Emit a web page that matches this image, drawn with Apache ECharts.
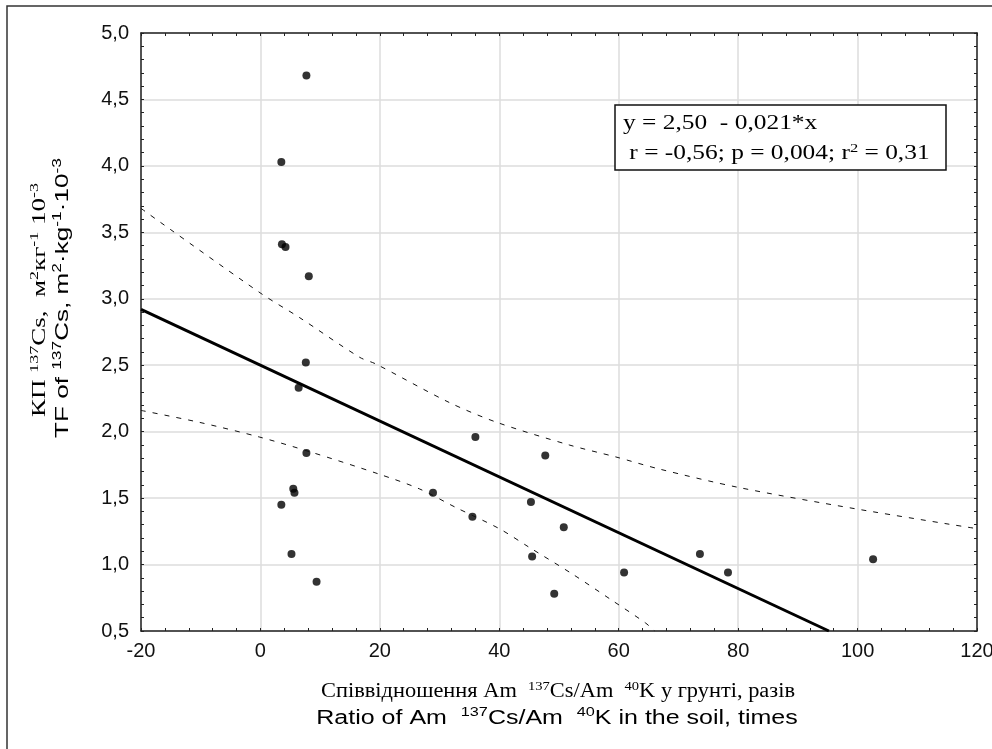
<!DOCTYPE html>
<html>
<head>
<meta charset="utf-8">
<script src="https://cdn.jsdelivr.net/npm/echarts@6/dist/echarts.min.js"></script>
<style>
html,body{margin:0;padding:0;background:#fff;overflow:hidden;}
#chart{width:992px;height:749px;}
</style>
</head>
<body>
<div id="chart"></div>
<script>
// Observed points
const xValues = [7.7, 3.5, 3.6, 4.2, 8.1, 7.6, 6.4, 7.7, 5.5, 5.7, 3.5, 5.2, 9.4, 28.9, 36.0, 47.7, 45.3, 35.5, 50.8, 45.5, 49.2, 60.9, 73.6, 78.3, 102.6];
const yValues = [4.68, 4.03, 3.41, 3.39, 3.17, 2.52, 2.33, 1.84, 1.57, 1.54, 1.45, 1.08, 0.87, 1.54, 1.96, 1.82, 1.47, 1.36, 1.28, 1.06, 0.78, 0.94, 1.08, 0.94, 1.04];
// Regression line endpoints
const fitX = [-20, 95.2];
const fitY = [2.92, 0.5];
// Upper confidence band
const upperX = [-20, 0.1, 6.5, 16.6, 19.3, 31.6, 39.6, 51.7, 59.5, 66.7, 80.1, 99.6, 120];
const upperY = [3.68, 3.04, 2.86, 2.56, 2.51, 2.22, 2.07, 1.90, 1.81, 1.72, 1.58, 1.42, 1.27];
// Lower confidence band
const lowerX = [-20, -10.2, -0.2, 8.2, 19.9, 26.6, 32.7, 40, 45, 52.2, 58.9, 64.5, 66];
const lowerY = [2.16, 2.07, 1.96, 1.85, 1.68, 1.57, 1.43, 1.27, 1.13, 0.93, 0.73, 0.56, 0.5];
// Tick labels
const xTickLabels = ['-20', '0', '20', '40', '60', '80', '100', '120'];
const yTickLabels = ['0,5', '1,0', '1,5', '2,0', '2,5', '3,0', '3,5', '4,0', '4,5', '5,0'];

const zip = (a, b) => a.map((v, i) => [v, b[i]]);
const chart = echarts.init(document.getElementById('chart'), null, {renderer: 'canvas', width: 992, height: 749});

const labelFont = {fontFamily: 'Liberation Sans', fontSize: 20, color: '#111'};
const frameLine = {show: true, onZero: false, lineStyle: {color: '#222', width: 1.5}};
const tickStyle = {show: true, inside: true, length: 3, lineStyle: {color: '#222'}};
const minorStyle = {show: true, splitNumber: 5, length: 3, lineStyle: {color: '#222'}};

const option = {
  animation: false,
  backgroundColor: '#fff',
  grid: {left: 141, top: 33, right: 15, bottom: 118, containLabel: false, outerBoundsMode: 'none'},
  xAxis: [{
    type: 'value', min: -20, max: 120, interval: 20,
    axisLine: frameLine, axisTick: tickStyle, minorTick: minorStyle,
    splitLine: {show: true, lineStyle: {color: '#dcdcdc', width: 1.5}},
    axisLabel: Object.assign({margin: 10, formatter: v => xTickLabels[Math.round((v + 20) / 20)]}, labelFont)
  }, {
    type: 'value', position: 'top', min: -20, max: 120, interval: 20,
    axisLine: frameLine, axisTick: tickStyle, minorTick: minorStyle,
    splitLine: {show: false}, axisLabel: {show: false}
  }],
  yAxis: [{
    type: 'value', min: 0.5, max: 5, interval: 0.5,
    axisLine: frameLine, axisTick: tickStyle, minorTick: minorStyle,
    splitLine: {show: true, lineStyle: {color: '#dcdcdc', width: 1.5}},
    axisLabel: Object.assign({margin: 12, formatter: v => yTickLabels[Math.round((v - 0.5) / 0.5)]}, labelFont)
  }, {
    type: 'value', position: 'right', min: 0.5, max: 5, interval: 0.5,
    axisLine: frameLine, axisTick: tickStyle, minorTick: minorStyle,
    splitLine: {show: false}, axisLabel: {show: false}
  }],
  series: [
    {
      type: 'line', data: zip(upperX, upperY), smooth: 0.3, showSymbol: false, silent: true,
      lineStyle: {color: '#111', width: 1, type: [5, 7]}
    },
    {
      type: 'line', data: zip(lowerX, lowerY), smooth: 0.3, showSymbol: false, silent: true,
      lineStyle: {color: '#111', width: 1, type: [5, 7]}
    },
    {
      type: 'line', data: zip(fitX, fitY), showSymbol: false, silent: true,
      lineStyle: {color: '#000', width: 3}
    },
    {
      type: 'scatter', data: zip(xValues, yValues), symbol: 'circle', symbolSize: 8,
      itemStyle: {color: '#000'}
    }
  ],
  graphic: [
    {
      type: 'rect', shape: {x: 7, y: 6, width: 1100, height: 900}, z: 100,
      style: {fill: null, stroke: '#333', lineWidth: 1.5}, silent: true
    },
    {
      type: 'rect', shape: {x: 615, y: 105, width: 331, height: 65}, z: 100,
      style: {fill: '#fff', stroke: '#111', lineWidth: 1.5}
    },
    {
      type: 'text', x: 623, y: 109, z: 101, scaleX: 1.27,
      style: {
        text: '{t|y = 2,50  - 0,021*x}\n{t| r = -0,56; p = 0,004; r}{s|2}{t| = 0,31}',
        rich: {
          t: {fontFamily: 'Liberation Serif', fontSize: 20, lineHeight: 30, fill: '#000'},
          s: {fontFamily: 'Liberation Serif', fontSize: 13, verticalAlign: 'top', lineHeight: 30, padding: [3, 0, 0, 0], fill: '#000'}
        }
      }
    },
    {
      type: 'text', x: 558, y: 692, z: 101, scaleX: 1.12,
      style: {
        text: '{a|Співвідношення Am  }{as|137}{a|Cs/Am  }{as|40}{a|K у грунті, разів}',
        align: 'center', verticalAlign: 'middle',
        rich: {
          a: {fontFamily: 'Liberation Serif', fontSize: 20, lineHeight: 24, fill: '#000'},
          as: {fontFamily: 'Liberation Serif', fontSize: 13, lineHeight: 24, verticalAlign: 'top', fill: '#000'}
        }
      }
    },
    {
      type: 'text', x: 557, y: 718, z: 101, scaleX: 1.25,
      style: {
        text: '{b|Ratio of Am  }{bs|137}{b|Cs/Am  }{bs|40}{b|K in the soil, times}',
        align: 'center', verticalAlign: 'middle',
        rich: {
          b: {fontFamily: 'Liberation Sans', fontSize: 20, lineHeight: 24, fill: '#000'},
          bs: {fontFamily: 'Liberation Sans', fontSize: 13, lineHeight: 24, verticalAlign: 'top', fill: '#000'}
        }
      }
    },
    {
      type: 'text', x: 40, y: 300, z: 101, rotation: Math.PI / 2, scaleX: 1.5,
      style: {
        text: '{a|КП }{as|137}{a|Cs,  м}{as|2}{a|кг}{as|-1}{a| 10}{as|-3}',
        align: 'center', verticalAlign: 'middle',
        rich: {
          a: {fontFamily: 'Liberation Serif', fontSize: 18, lineHeight: 22, fill: '#000'},
          as: {fontFamily: 'Liberation Serif', fontSize: 12, lineHeight: 22, verticalAlign: 'top', fill: '#000'}
        }
      }
    },
    {
      type: 'text', x: 63, y: 298, z: 101, rotation: Math.PI / 2, scaleX: 1.45,
      style: {
        text: '{b|TF of }{bs|137}{b|Cs, m}{bs|2}{b|·kg}{bs|-1}{b|·10}{bs|-3}',
        align: 'center', verticalAlign: 'middle',
        rich: {
          b: {fontFamily: 'Liberation Sans', fontSize: 18, lineHeight: 22, fill: '#000'},
          bs: {fontFamily: 'Liberation Sans', fontSize: 12, lineHeight: 22, verticalAlign: 'top', fill: '#000'}
        }
      }
    }
  ]
};
chart.setOption(option);
</script>
</body>
</html>
